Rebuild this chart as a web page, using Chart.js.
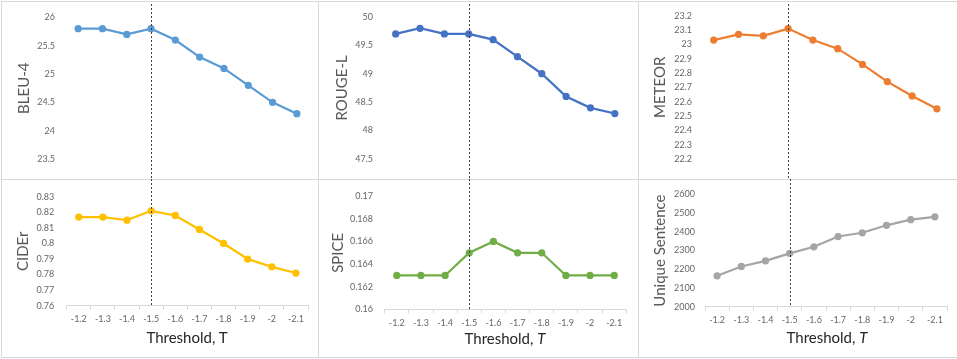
<!DOCTYPE html>
<html>
<head>
<meta charset="utf-8">
<script src="https://cdn.jsdelivr.net/npm/chart.js@4"></script>
<style>
  body { margin: 0; background: #fff; width: 957px; height: 359px; position: relative; overflow: hidden; font-family: Lato, sans-serif; }
  .panel { position: absolute; box-sizing: border-box; border: 1px solid #d9d9d9; }
  canvas { position: absolute; }
  .xtitle { position: absolute; font-size: 15px; color: #262626; transform: translate(-50%, -50%); white-space: nowrap; }
</style>
</head>
<body>
<div class="panel" style="left:1px;top:1px;width:318px;height:179px"></div>
<div class="panel" style="left:318px;top:1px;width:321px;height:179px"></div>
<div class="panel" style="left:638px;top:1px;width:320px;height:179px"></div>
<div class="panel" style="left:1px;top:179px;width:318px;height:179px"></div>
<div class="panel" style="left:318px;top:179px;width:321px;height:179px"></div>
<div class="panel" style="left:638px;top:179px;width:320px;height:179px"></div>

<canvas id="bleu" width="317" height="178" style="left:1px;top:1px"></canvas>
<canvas id="rouge" width="319" height="178" style="left:319px;top:1px"></canvas>
<canvas id="meteor" width="318" height="178" style="left:639px;top:1px"></canvas>
<canvas id="cider" width="317" height="178" style="left:1px;top:179px"></canvas>
<canvas id="spice" width="319" height="178" style="left:319px;top:179px"></canvas>
<canvas id="unique" width="318" height="178" style="left:639px;top:179px"></canvas>

<div class="xtitle" style="left:187px;top:337px">Threshold, T</div>
<div class="xtitle" style="left:505px;top:338px">Threshold, <i>T</i></div>
<div class="xtitle" style="left:827px;top:337px">Threshold, <i>T</i></div>

<script>
// data
const thresholds = ['-1.2', '-1.3', '-1.4', '-1.5', '-1.6', '-1.7', '-1.8', '-1.9', '-2', '-2.1'];
const markedThreshold = '-1.5';
const bleu4 = [25.8, 25.8, 25.7, 25.8, 25.6, 25.3, 25.1, 24.8, 24.5, 24.3];
const rougeL = [49.7, 49.8, 49.7, 49.7, 49.6, 49.3, 49.0, 48.6, 48.4, 48.3];
const meteor = [23.03, 23.07, 23.06, 23.11, 23.03, 22.97, 22.86, 22.74, 22.64, 22.55];
const cider = [0.817, 0.817, 0.815, 0.821, 0.818, 0.809, 0.800, 0.790, 0.785, 0.781];
const spice = [0.163, 0.163, 0.163, 0.165, 0.166, 0.165, 0.165, 0.163, 0.163, 0.163];
const uniqueSentence = [2165, 2215, 2245, 2285, 2320, 2375, 2395, 2435, 2465, 2480];

const tickFont = { family: 'Lato', size: 9 };
const titleFont = { family: 'Lato', size: 15 };

// vertical dashed marker at the chosen threshold
const thresholdLine = {
  id: 'thresholdLine',
  afterDatasetsDraw(chart, args, opts) {
    const ctx = chart.ctx;
    const x = Math.round(chart.scales.x.getPixelForValue(thresholds.indexOf(markedThreshold))) + 0.5;
    const yEnd = opts.toAxis ? chart.chartArea.bottom : chart.height;
    ctx.save();
    ctx.strokeStyle = '#404040';
    ctx.lineWidth = 1;
    ctx.setLineDash([2, 2]);
    ctx.beginPath();
    ctx.moveTo(x, opts.top);
    ctx.lineTo(x, yEnd);
    ctx.stroke();
    ctx.restore();
  }
};

function makeChart(id, values, color, yTitle, yMin, yMax, yStep, box) {
  const canvas = document.getElementById(id);
  const W = canvas.width, H = canvas.height;
  new Chart(canvas, {
    type: 'line',
    data: {
      labels: thresholds,
      datasets: [{
        data: values,
        borderColor: color,
        backgroundColor: color,
        borderWidth: 2.25,
        pointRadius: 2.5,
        pointHoverRadius: 2.5,
        tension: 0
      }]
    },
    options: {
      responsive: false,
      animation: false,
      events: [],
      layout: { padding: { left: 0, right: W - box.right, top: box.top, bottom: box.showX ? 0 : H - box.bottom } },
      plugins: {
        legend: { display: false },
        tooltip: { enabled: false },
        thresholdLine: { top: box.showX ? 0 : 3, toAxis: box.showX }
      },
      scales: {
        x: {
          display: box.showX,
          offset: true,
          grid: { offset: true, drawOnChartArea: false, tickLength: 4, color: '#d9d9d9' },
          border: { color: '#d9d9d9' },
          ticks: { font: tickFont, color: '#666', padding: 4, maxRotation: 0, autoSkip: false },
          afterFit: s => { s.height = H - box.bottom; }
        },
        y: {
          min: yMin,
          max: yMax,
          grid: { display: false, drawTicks: false },
          border: { display: false },
          ticks: {
            stepSize: yStep,
            font: tickFont,
            color: '#666',
            padding: box.left - box.tickRight,
            callback: v => String(Math.round(v * 10000) / 10000)
          },
          title: { display: true, text: yTitle, font: titleFont, color: '#595959', padding: { top: box.titleX - 9, bottom: 0 } },
          afterFit: s => { s.width = box.left; }
        }
      }
    },
    plugins: [thresholdLine]
  });
}

makeChart('bleu', bleu4, '#5B9BD5', 'BLEU-4', 23.5, 26, 0.5,
  { left: 65, right: 308, top: 10, bottom: 168, tickRight: 54, titleX: 23, showX: false });
makeChart('rouge', rougeL, '#4472C4', 'ROUGE-L', 47.5, 50, 0.5,
  { left: 64.5, right: 308, top: 10, bottom: 168, tickRight: 54, titleX: 23, showX: false });
makeChart('meteor', meteor, '#ED7D31', 'METEOR', 22.2, 23.2, 0.1,
  { left: 62.3, right: 310.3, top: 10, bottom: 168, tickRight: 53, titleX: 21, showX: false });
makeChart('cider', cider, '#FFC000', 'CIDEr', 0.76, 0.83, 0.01,
  { left: 65.7, right: 307, top: 10.7, bottom: 126.7, tickRight: 53.3, titleX: 22.3, showX: true });
makeChart('spice', spice, '#70AD47', 'SPICE', 0.16, 0.17, 0.002,
  { left: 65.7, right: 307.3, top: 9.3, bottom: 130.5, tickRight: 54, titleX: 19, showX: true });
makeChart('unique', uniqueSentence, '#A5A5A5', 'Unique Sentence', 2000, 2600, 100,
  { left: 66, right: 308, top: 10.7, bottom: 127.7, tickRight: 56, titleX: 21, showX: true });
</script>
</body>
</html>
